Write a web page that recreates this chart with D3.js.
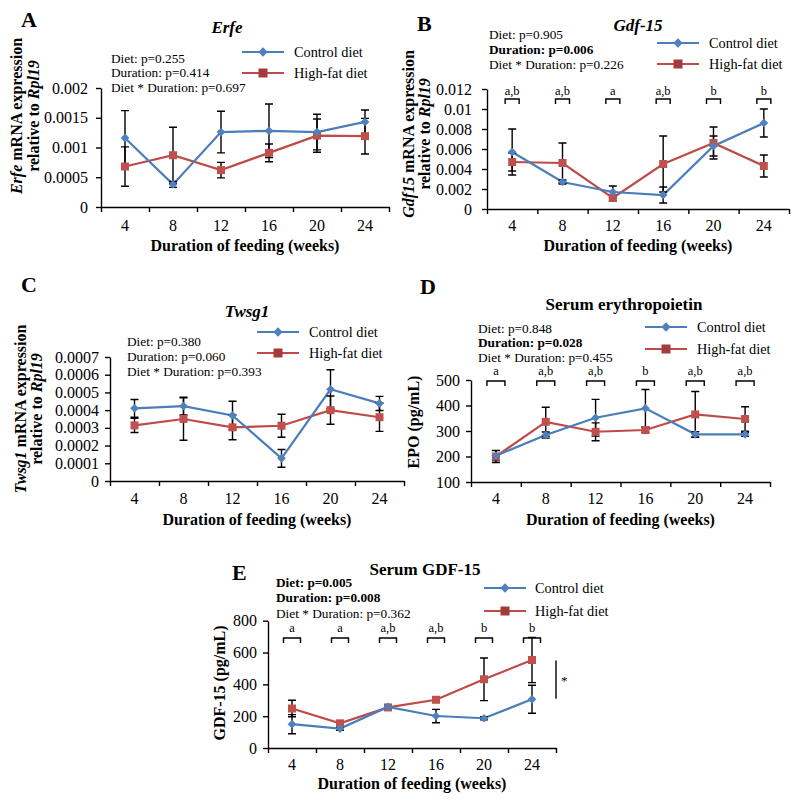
<!DOCTYPE html>
<html><head><meta charset="utf-8">
<script src="https://cdn.jsdelivr.net/npm/d3@7"></script>
<style>
body{margin:0;background:#fff}
svg{display:block}
text{font-family:"Liberation Serif","Times New Roman",serif;fill:#000}
</style>
</head><body>
<svg id="c" width="800" height="802"></svg>
<script>
// ---------- DATA ----------
const weeks = ["4","8","12","16","20","24"];
const seriesNames = ["Control diet","High-fat diet"];

// A: Erfe
const erfeControl    = [0.00116,0.00038,0.00126,0.00128,0.00126,0.00143];
const erfeControlErr = [0.00046,0.00005,0.00035,0.00045,0.00030,0.00020];
const erfeHFD        = [0.00068,0.00087,0.00062,0.00091,0.00120,0.00119];
const erfeHFDErr     = [0.00033,0.00047,0.00013,0.00015,0.00028,0.00030];
const erfeTicks      = [0,0.0005,0.001,0.0015,0.002];
const erfeTickLabels = ["0","0.0005","0.001","0.0015","0.002"];
const erfeStats      = ["Diet: p=0.255","Duration: p=0.414","Diet * Duration: p=0.697"];
const erfeStatsBold  = [false,false,false];

// B: Gdf-15
const gdfControl    = [0.0057,0.0027,0.0017,0.0014,0.0063,0.0086];
const gdfControlErr = [0.0023,0.0002,0.0006,0.0008,0.0010,0.0014];
const gdfHFD        = [0.0047,0.0046,0.0011,0.0045,0.0066,0.0043];
const gdfHFDErr     = [0.0009,0.0020,0.0003,0.0028,0.0016,0.0011];
const gdfTicks      = [0,0.002,0.004,0.006,0.008,0.01,0.012];
const gdfTickLabels = ["0","0.002","0.004","0.006","0.008","0.01","0.012"];
const gdfStats      = ["Diet: p=0.905","Duration: p=0.006","Diet * Duration: p=0.226"];
const gdfStatsBold  = [false,true,false];
const gdfLetters    = ["a,b","a,b","a","a,b","b","b"];

// C: Twsg1
const twsgControl    = [0.00041,0.000423,0.00037,0.000128,0.000518,0.000438];
const twsgControlErr = [0.00005,0.00005,0.00008,0.00005,0.00011,0.00004];
const twsgHFD        = [0.000314,0.00035,0.000303,0.000312,0.0004,0.00036];
const twsgHFDErr     = [0.00004,0.00012,0.00007,0.000065,0.00008,0.00008];
const twsgTicks      = [0,0.0001,0.0002,0.0003,0.0004,0.0005,0.0006,0.0007];
const twsgTickLabels = ["0","0.0001","0.0002","0.0003","0.0004","0.0005","0.0006","0.0007"];
const twsgStats      = ["Diet: p=0.380","Duration: p=0.060","Diet * Duration: p=0.393"];
const twsgStatsBold  = [false,false,false];

// D: Serum erythropoietin
const epoControl    = [203,284,352,389,287,287];
const epoControlErr = [20,12,72,74,10,8];
const epoHFD        = [200,336,297,304,365,347];
const epoHFDErr     = [24,57,35,10,90,48];
const epoTicks      = [100,200,300,400,500];
const epoTickLabels = ["100","200","300","400","500"];
const epoStats      = ["Diet: p=0.848","Duration: p=0.028","Diet * Duration: p=0.455"];
const epoStatsBold  = [false,true,false];
const epoLetters    = ["a","a,b","a,b","b","a,b","a,b"];

// E: Serum GDF-15
const sgdfControl    = [150,122,258,201,187,306];
const sgdfControlErr = [60,10,10,42,10,88];
const sgdfHFD        = [248,155,255,303,432,553];
const sgdfHFDErr     = [52,10,5,8,134,142];
const sgdfTicks      = [0,200,400,600,800];
const sgdfTickLabels = ["0","200","400","600","800"];
const sgdfStats      = ["Diet: p=0.005","Duration: p=0.008","Diet * Duration: p=0.362"];
const sgdfStatsBold  = [true,true,false];
const sgdfLetters    = ["a","a","a,b","a,b","b","b"];

// ---------- STYLE ----------
const FONT = '"Liberation Serif","Times New Roman",serif';
const C_LINE = "#4A7EBB", C_MARK = "#4F81BD";
const H_LINE = "#BE4B48", H_MARK = "#C0504D", H_LEG = "#A33B3A";
const svg = d3.select("#c");

function txt(sel){ return sel.style("font-family",FONT).attr("fill","#000"); }

function panel(cfg){
  const g = svg.append("g");
  const x = d3.scaleBand().domain(weeks).range([cfg.x0,cfg.x1]).padding(0);
  const y = d3.scaleLinear().domain(cfg.domain).range([cfg.yB,cfg.yT]);
  const cx = d => x(d) + x.bandwidth()/2;

  txt(g.append("text")).attr("x",cfg.letter[1]).attr("y",cfg.letter[2]).text(cfg.letter[0])
    .style("font-size","22px").style("font-weight","bold");
  txt(g.append("text")).attr("x",cfg.title[1]).attr("y",cfg.title[2]).attr("text-anchor","middle")
    .text(cfg.title[0]).style("font-size","17px").style("font-weight","bold")
    .style("font-style",cfg.titleItalic?"italic":"normal");
  cfg.stats.forEach((s,i)=>{
    txt(g.append("text")).attr("x",cfg.statsX).attr("y",cfg.statsY[i]).text(s)
      .style("font-size","13.3px").style("font-weight",cfg.statsBold[i]?"bold":"normal");
  });
  cfg.ytitle.forEach(line=>{
    const t = txt(g.append("text")).attr("transform",`translate(${line.x},${cfg.ytitleY}) rotate(-90)`)
      .attr("text-anchor","middle").attr("dy","0.35em").style("font-size","16px").style("font-weight","bold");
    line.parts.forEach(p=>t.append("tspan").text(p[0]).style("font-style",p[1]?"italic":"normal"));
  });
  txt(g.append("text")).attr("x",(cfg.x0+cfg.x1)/2).attr("y",cfg.xtitleY).attr("text-anchor","middle")
    .text("Duration of feeding (weeks)").style("font-size","16px").style("font-weight","bold");

  const ya = g.append("g").attr("transform",`translate(${cfg.x0},0)`)
    .call(d3.axisLeft(y).tickValues(cfg.ticks).tickFormat((d,i)=>cfg.tickLabels[i])
      .tickSize(5).tickSizeOuter(0).tickPadding(cfg.tickPad));
  const xb = d3.scaleLinear().domain([0,weeks.length]).range([cfg.x0,cfg.x1]);
  const xa = g.append("g").attr("transform",`translate(0,${cfg.yB})`)
    .call(d3.axisBottom(xb).tickValues(d3.range(weeks.length+1)).tickFormat("").tickSize(5).tickSizeOuter(0));
  const xl = g.append("g").attr("transform",`translate(0,${cfg.yB})`)
    .call(d3.axisBottom(x).tickSize(0));
  xl.select(".domain").remove();
  xl.selectAll("text").attr("y",cfg.xlabOff).attr("dy",0);
  [ya,xa,xl].forEach(a=>{
    a.attr("font-family",null);
    a.selectAll("path,line").attr("stroke","#000").attr("stroke-width",1.4);
    txt(a.selectAll("text")).style("font-size","16px");
  });

  if(cfg.letters){
    const w = cfg.brW, top = cfg.brY;
    weeks.forEach((wk,i)=>{
      const c = cx(wk);
      g.append("path").attr("d",`M${c-w/2},${top+5}V${top}H${c+w/2}V${top+5}`)
        .attr("fill","none").attr("stroke","#000").attr("stroke-width",1.4);
      txt(g.append("text")).attr("x",c).attr("y",cfg.brLabY).attr("text-anchor","middle")
        .text(cfg.letters[i]).style("font-size","12.5px");
    });
  }

  const series = [
    {v:cfg.hfd, e:cfg.hfdErr, line:H_LINE, mark:H_MARK, sym:"square"},
    {v:cfg.ctl, e:cfg.ctlErr, line:C_LINE, mark:C_MARK, sym:"diamond"}
  ];
  const lineGen = d3.line().x((d,i)=>cx(weeks[i])).y(d=>y(d));
  series.forEach(s=>{
    g.append("path").datum(s.v).attr("d",lineGen).attr("fill","none")
      .attr("stroke",s.line).attr("stroke-width",2.2);
  });
  series.forEach(s=>{
    s.v.forEach((v,i)=>{
      const c = cx(weeks[i]), y1 = y(v+s.e[i]), y2 = y(v-s.e[i]);
      g.append("path").attr("d",`M${c},${y1}V${y2}M${c-4},${y1}H${c+4}M${c-4},${y2}H${c+4}`)
        .attr("stroke","#000").attr("stroke-width",1.4).attr("fill","none");
    });
  });
  const diamond = d3.symbol(d3.symbolSquare,38)(), square = d3.symbol(d3.symbolSquare,64)();
  series.forEach(s=>{
    s.v.forEach((v,i)=>{
      g.append("path").attr("d",s.sym==="diamond"?diamond:square)
        .attr("transform",`translate(${cx(weeks[i])},${y(v)})`+(s.sym==="diamond"?" rotate(45)":""))
        .attr("fill",s.mark);
    });
  });

  const L = cfg.legend;
  [[seriesNames[0],L.y[0],C_LINE,C_MARK,"diamond"],[seriesNames[1],L.y[1],H_LINE,H_LEG,"square"]].forEach(r=>{
    g.append("line").attr("x1",L.x0).attr("x2",L.x1).attr("y1",r[1]).attr("y2",r[1])
      .attr("stroke",r[2]).attr("stroke-width",2.2);
    const m = (L.x0+L.x1)/2;
    g.append("path").attr("d",r[4]==="diamond"?d3.symbol(d3.symbolSquare,44)():d3.symbol(d3.symbolSquare,81)())
      .attr("transform",`translate(${m},${r[1]})`+(r[4]==="diamond"?" rotate(45)":""))
      .attr("fill",r[3]);
    txt(g.append("text")).attr("x",L.tx).attr("y",r[1]+5).text(r[0]).style("font-size","14.3px");
  });

  if(cfg.sig){
    g.append("line").attr("x1",cfg.sig.x).attr("x2",cfg.sig.x).attr("y1",y(cfg.sig.v[0])).attr("y2",y(cfg.sig.v[1]))
      .attr("stroke","#000").attr("stroke-width",1.4);
    txt(g.append("text")).attr("x",cfg.sig.x+5).attr("y",y((cfg.sig.v[0]+cfg.sig.v[1])/2)+5).text("*").style("font-size","13px");
  }
}

panel({x0:101,x1:389,yT:88,yB:207,domain:[0,0.002],ticks:erfeTicks,tickLabels:erfeTickLabels,tickPad:8,xlabOff:24,
  ctl:erfeControl,ctlErr:erfeControlErr,hfd:erfeHFD,hfdErr:erfeHFDErr,
  letter:["A",21,27],title:["Erfe",227,33],titleItalic:true,
  stats:erfeStats,statsBold:erfeStatsBold,statsX:111,statsY:[63,77,92],
  ytitle:[{x:16,parts:[["Erfe",true],[" mRNA expression",false]]},{x:33,parts:[["relative to ",false],["Rpl19",true]]}],ytitleY:116,
  xtitleY:251,legend:{x0:242,x1:284,tx:294,y:[52,73]}});

panel({x0:487,x1:789,yT:89,yB:209,domain:[0,0.012],ticks:gdfTicks,tickLabels:gdfTickLabels,tickPad:10,xlabOff:22,
  ctl:gdfControl,ctlErr:gdfControlErr,hfd:gdfHFD,hfdErr:gdfHFDErr,
  letter:["B",417,31],title:["Gdf-15",638,31],titleItalic:true,
  stats:gdfStats,statsBold:gdfStatsBold,statsX:489,statsY:[39,54,69],
  ytitle:[{x:408,parts:[["Gdf15",true],[" mRNA expression",false]]},{x:424,parts:[["relative to ",false],["Rpl19",true]]}],ytitleY:134,
  xtitleY:251,legend:{x0:657,x1:699,tx:709,y:[43,64]},
  letters:gdfLetters,brW:14,brY:99,brLabY:95});

panel({x0:110,x1:404,yT:357,yB:481,domain:[0,0.0007],ticks:twsgTicks,tickLabels:twsgTickLabels,tickPad:6,xlabOff:23,
  ctl:twsgControl,ctlErr:twsgControlErr,hfd:twsgHFD,hfdErr:twsgHFDErr,
  letter:["C",21,292],title:["Twsg1",247,317],titleItalic:true,
  stats:twsgStats,statsBold:twsgStatsBold,statsX:127,statsY:[346,361,376],
  ytitle:[{x:20,parts:[["Twsg1",true],[" mRNA expression",false]]},{x:36,parts:[["relative to ",false],["Rpl19",true]]}],ytitleY:409,
  xtitleY:525,legend:{x0:257,x1:299,tx:309,y:[332,353]}});

panel({x0:471,x1:770,yT:380,yB:482,domain:[100,500],ticks:epoTicks,tickLabels:epoTickLabels,tickPad:6,xlabOff:22,
  ctl:epoControl,ctlErr:epoControlErr,hfd:epoHFD,hfdErr:epoHFDErr,
  letter:["D",420,294],title:["Serum erythropoietin",624,310],titleItalic:false,
  stats:epoStats,statsBold:epoStatsBold,statsX:478,statsY:[333,347,362],
  ytitle:[{x:413,parts:[["EPO (pg/mL)",false]]}],ytitleY:422,
  xtitleY:525,legend:{x0:645,x1:687,tx:697,y:[327,349]},
  letters:epoLetters,brW:18,brY:381,brLabY:375});

panel({x0:268,x1:556,yT:620.7,yB:748,domain:[0,800],ticks:sgdfTicks,tickLabels:sgdfTickLabels,tickPad:6,xlabOff:22,
  ctl:sgdfControl,ctlErr:sgdfControlErr,hfd:sgdfHFD,hfdErr:sgdfHFDErr,
  letter:["E",232,580],title:["Serum GDF-15",425,575],titleItalic:false,
  stats:sgdfStats,statsBold:sgdfStatsBold,statsX:276,statsY:[587,602,618],
  ytitle:[{x:219,parts:[["GDF-15 (pg/mL)",false]]}],ytitleY:683,
  xtitleY:789,legend:{x0:484,x1:526,tx:535,y:[588,611]},
  letters:sgdfLetters,brW:17,brY:638,brLabY:632,
  sig:{x:556,v:[550,310]}});
</script>
</body></html>
